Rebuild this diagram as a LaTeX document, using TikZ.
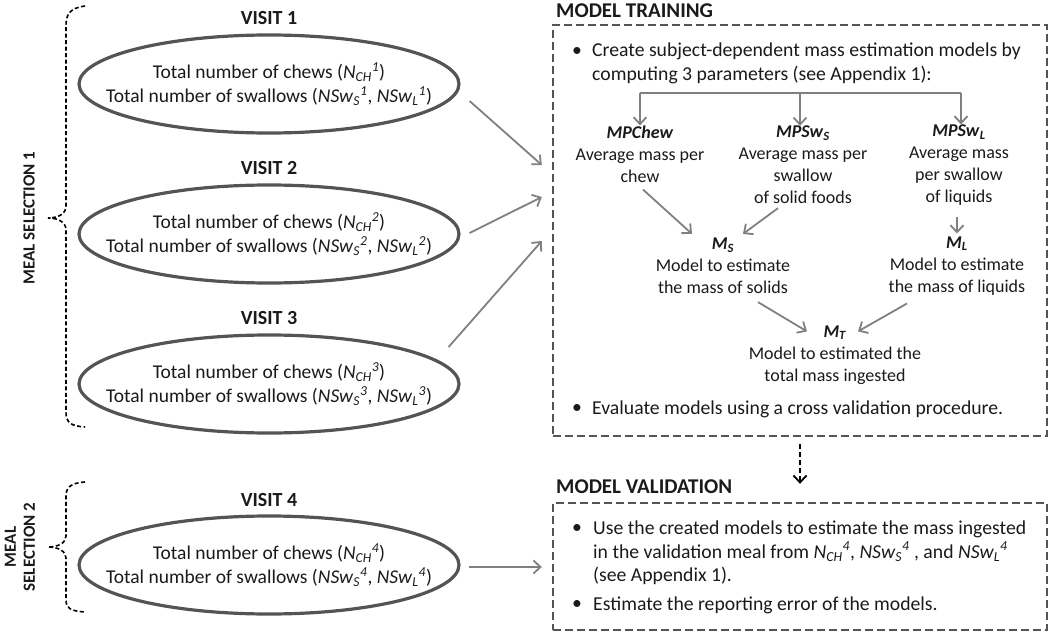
\documentclass[tikz,border=0pt]{standalone}
\usepackage{fontspec}
\setmainfont{Carlito}
\usetikzlibrary{arrows.meta,shapes.geometric}
\definecolor{txt}{HTML}{1A1A1A}
\definecolor{rim}{HTML}{545454}
\definecolor{arr}{HTML}{808080}
\newcommand{\NCH}[1]{\textit{N}\textsubscript{\textit{CH}}\textsuperscript{\textit{#1}}}
\newcommand{\NSS}[1]{\textit{NSw}\textsubscript{\textit{S}}\textsuperscript{\textit{#1}}}
\newcommand{\NSL}[1]{\textit{NSw}\textsubscript{\textit{L}}\textsuperscript{\textit{#1}}}
\newcommand{\bim}[2]{\textbf{\textit{#1}\textsubscript{\textit{#2}}}}
\begin{document}
\begin{tikzpicture}[x=1pt,y=-1pt,
 every node/.style={text=txt},
 visit/.style={ellipse, draw=rim, line width=3.2pt, minimum width=380pt, minimum height=98pt, inner sep=0pt},
 vtext/.style={align=center, inner sep=0pt, font=\fontsize{19.5}{24}\selectfont},
 ttl/.style={font=\fontsize{21}{24}\selectfont\bfseries, inner sep=0pt},
 vttl/.style={font=\fontsize{20}{24}\selectfont\bfseries, inner sep=0pt},
 body/.style={font=\fontsize{18}{22}\selectfont, inner sep=0pt, align=center},
 bul/.style={font=\fontsize{19.7}{23.5}\selectfont, inner sep=0pt, align=left},
 conn/.style={draw=arr, line width=1.8pt, -{Straight Barb[length=7pt,width=13pt]}},
 frame/.style={draw=rim, line width=2.4pt, dash pattern=on 8pt off 4pt, inner sep=0pt},
 brc/.style={draw=black, line width=1.6pt, dash pattern=on 4pt off 2.5pt},
 side/.style={font=\fontsize{17}{19}\selectfont\bfseries, rotate=90, align=center, inner sep=0pt}
]
\useasboundingbox (0,0) rectangle (1050,634);

% left: visits
\node[vttl] (t1) at (269,18) {VISIT 1};
\node[visit] (v1) at (269,84) {};
\node[vtext] (v1t) at (v1) {Total number of chews (\NCH{1})\\Total number of swallows (\NSS{1}, \NSL{1})};
\node[vttl] (t2) at (269,168) {VISIT 2};
\node[visit] (v2) at (269,234) {};
\node[vtext] (v2t) at (v2) {Total number of chews (\NCH{2})\\Total number of swallows (\NSS{2}, \NSL{2})};
\node[vttl] (t3) at (269,318) {VISIT 3};
\node[visit] (v3) at (269,384) {};
\node[vtext] (v3t) at (v3) {Total number of chews (\NCH{3})\\Total number of swallows (\NSS{3}, \NSL{3})};
\node[vttl] (t4) at (269,500) {VISIT 4};
\node[visit] (v4) at (269,565) {};
\node[vtext] (v4t) at (v4) {Total number of chews (\NCH{4})\\Total number of swallows (\NSS{4}, \NSL{4})};

% braces
\draw[brc] (85,6) .. controls (70,8) and (66,14) .. (66,26) -- (66,206) .. controls (66,214) and (58,218) .. (48,218) .. controls (58,218) and (66,222) .. (66,230) -- (66,412) .. controls (66,422) and (70,426) .. (85,427);
\draw[brc] (85,482) .. controls (70,483) and (66,488) .. (66,496) -- (66,536) .. controls (66,543) and (58,547) .. (48,547) .. controls (58,547) and (66,551) .. (66,558) -- (66,600) .. controls (66,608) and (70,611) .. (85,612);
\node[side] (ms1) at (29,218) {MEAL SELECTION 1};
\node[side] (ms2) at (20,547) {MEAL\\SELECTION 2};

% right: boxes
\node[frame, minimum width=494pt, minimum height=411pt] (train) at (800,230.5) {};
\node[frame, minimum width=494pt, minimum height=127pt] (val) at (800,566.5) {};
\node[ttl, anchor=west] (ttrain) at (556,11) {MODEL TRAINING};
\node[ttl, anchor=west] (tval) at (556,487) {MODEL VALIDATION};

% training content
\node[bul, anchor=west] (b1) at (572,52) {•};
\node[bul, anchor=west] (c1) at (592,63.5) {Create subject-dependent mass estimation models by\\computing 3 parameters (see Appendix 1):};
\node[body] (mpc) at (640,154) {\textbf{\textit{MPChew}}\\Average mass per\\chew};
\node[body] (mps) at (803,165) {\bim{MPSw}{S}\\Average mass per\\swallow\\of solid foods};
\node[body] (mpl) at (959,165) {\bim{MPSw}{L}\\Average mass\\per swallow\\of liquids};
\node[body] (ms) at (723,266) {\bim{M}{S}\\Model to estimate\\the mass of solids};
\node[body] (ml) at (957,266) {\bim{M}{L}\\Model to estimate\\the mass of liquids};
\node[body] (mt) at (835,355) {\bim{M}{T}\\Model to estimated the\\total mass ingested};
\node[bul, anchor=west] (b2) at (572,409) {•};
\node[bul, anchor=west] (c2) at (592,409) {Evaluate models using a cross validation procedure.};

\coordinate (fl) at (640,93);
\coordinate (fm) at (800,93);
\coordinate (fr) at (961,93);
\draw[draw=arr, line width=1.8pt] (fl) -- (fr);
\draw[conn] (fl) -- (fl |- mpc.north);
\draw[conn] (fm) -- (fm |- mps.north);
\draw[conn] (fr) -- (fr |- mpl.north);
\draw[conn] ([shift={(3,7)}]mpc.south) -- ([shift={(-31,-4)}]ms.north);
\draw[conn] ([shift={(-25,4)}]mps.south) -- ([shift={(20,-4)}]ms.north);
\draw[conn] ([shift={(-2,11)}]mpl.south) -- ([shift={(0,-3)}]ml.north);
\draw[conn] ([shift={(35,8)}]ms.south) -- ([shift={(-28,6)}]mt.north);
\draw[conn] ([shift={(-50,8)}]ml.south) -- ([shift={(23,6)}]mt.north);

% validation content
\node[bul, anchor=west] (b3) at (572,529) {•};
\node[bul, anchor=west] (c3) at (593,553) {Use the created models to estimate the mass ingested\\in the validation meal from \NCH{4}, \NSS{4} , and \NSL{4}\\(see Appendix 1).};
\node[bul, anchor=west] (b4) at (572,605) {•};
\node[bul, anchor=west] (c4) at (593,605) {Estimate the reporting error of the models.};

% connectors between columns
\draw[conn] ([shift={(9,17)}]v1.east) -- ([shift={(-10,-65.5)}]train.west);
\draw[conn] ([shift={(9,-1)}]v2.east) -- ([shift={(-10,-33.5)}]train.west);
\draw[conn] ([shift={(-12,-37)}]v3.east) -- ([shift={(-10,10.5)}]train.west);
\draw[conn] ([shift={(8,2)}]v4.east) -- ([shift={(-10,0.5)}]val.west);
\draw[draw=black, line width=1.8pt, dash pattern=on 5pt off 3pt, -{Straight Barb[length=7pt,width=13pt]}, shorten <=7pt, shorten >=18pt] (train.south) -- (val.north);
\end{tikzpicture}
\end{document}
